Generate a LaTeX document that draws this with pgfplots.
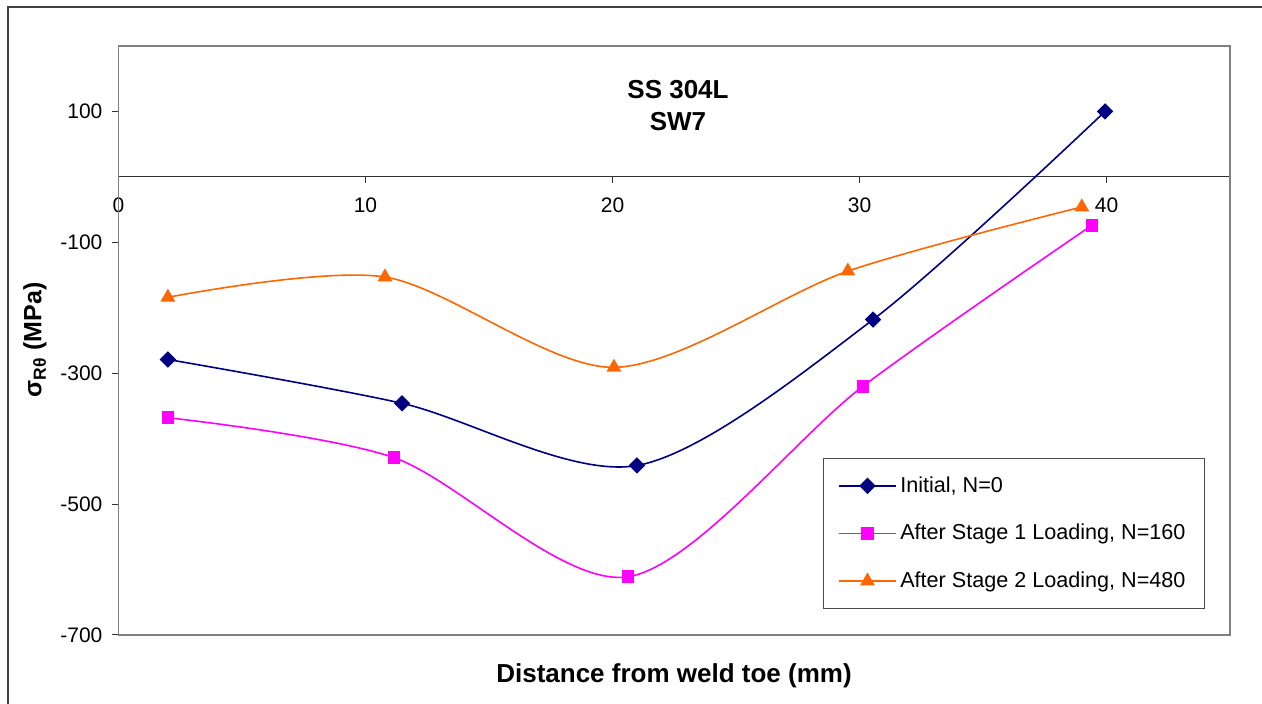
\documentclass[border=0pt]{standalone}
\usepackage{pgfplots}
\pgfplotsset{compat=1.18}
\usepackage{fontspec}
\setmainfont{Liberation Sans}
\definecolor{navyc}{RGB}{0,0,128}
\definecolor{magc}{RGB}{255,0,255}
\definecolor{orc}{RGB}{255,102,0}
\begin{document}
\begin{tikzpicture}
\useasboundingbox (0pt,0pt) rectangle (631pt,352pt);
\draw[line width=1pt, black!75] (3.75pt,0pt) -- (3.75pt,348.25pt) -- (631pt,348.25pt);
\begin{axis}[
  at={(59.25pt,34.5pt)}, anchor=south west,
  scale only axis, width=555.75pt, height=294.5pt,
  xmin=0, xmax=45, ymin=-700, ymax=200,
  axis x line=middle, axis y line=left,
  axis line style={-, black!80, line width=0.6pt},
  xtick={0,10,20,30,40}, ytick={-700,-500,-300,-100,100},
  tick align=outside, major tick length=3pt,
  tick style={black!80, line width=0.5pt},
  hide obscured x ticks=false, hide obscured y ticks=false,
  /pgf/number format/assume math mode=true,
  ticklabel style={font=\fontsize{10.5}{12}\selectfont},
  x tick label style={yshift=-4pt},
  y tick label style={xshift=-1.5pt},
  legend style={at={(0.9775,0.3005)}, anchor=north east, draw=black!70, line width=0.5pt,
    font=\fontsize{10.8}{13}\selectfont, row sep=10.5pt, inner xsep=7.5pt, inner ysep=7pt},
  legend cell align=left,
  legend image code/.code={\draw[mark repeat=2,mark phase=2,#1] plot coordinates {(0pt,0pt) (14pt,0pt) (28pt,0pt)};},
  clip=false,
]
\draw[black!50, line width=0.6pt] (rel axis cs:0,0) rectangle (rel axis cs:1,1);
\addplot[navyc, line width=0.8pt, smooth, tension=0.5, mark=square*, mark size=2.5pt, mark options={rotate=45, fill=navyc}]
  coordinates {(2,-279) (11.48,-346) (20.99,-441) (30.55,-218) (39.94,100)};
\addlegendentry{Initial, N=0}
\addplot[magc, line width=0.8pt, smooth, tension=0.5, mark=square*, mark size=2.8pt, mark options={fill=magc}]
  coordinates {(2,-368) (11.15,-429) (20.63,-611) (30.14,-320) (39.41,-74)};
\addlegendentry{After Stage 1 Loading, N=160}
\addplot[orc, line width=0.8pt, smooth, tension=0.5, mark=triangle*, mark size=3.5pt, mark options={fill=orc}]
  coordinates {(2,-184) (10.79,-153) (20.06,-291) (29.53,-144) (39.0,-46)};
\addlegendentry{After Stage 2 Loading, N=480}
\end{axis}
\node[align=center, font=\fontsize{13}{16}\selectfont\bfseries] at (339pt,299pt) {SS 304L\\SW7};
\node[font=\fontsize{13}{15}\selectfont\bfseries] at (337pt,14pt) {Distance from weld toe (mm)};
\node[rotate=90, font=\fontsize{12.5}{15}\selectfont\bfseries] at (17.5pt,182pt) {σ\textsubscript{Rθ} (MPa)};
\end{tikzpicture}
\end{document}
